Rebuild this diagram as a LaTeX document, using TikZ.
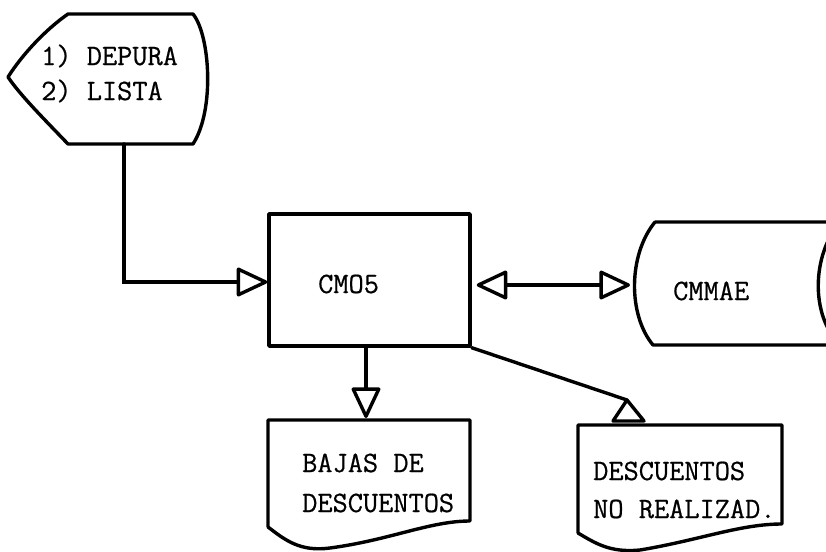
\documentclass[tikz,border=0pt]{standalone}
\usepackage{fontspec}
\newfontfamily\tw[FakeBold=0.6]{Latin Modern Mono}
\usetikzlibrary{arrows.meta}
\tikzset{
  shape line/.style={line width=3.4pt, line join=round, line cap=round},
  conn/.style={line width=3.4pt, line cap=round},
  tri/.tip={Triangle[open, length=33pt, width=30pt, line width=3.4pt, round]},
  opentip/.style={-tri},
  txt/.style={anchor=base west, inner sep=0pt, font=\tw\fontsize{29.5}{34}\selectfont},
}
\begin{document}
\begin{tikzpicture}[x=1pt,y=-1pt]
\useasboundingbox (0,0) rectangle (826,551);
\clip (0,0) rectangle (826,551);
\fill[white] (0,0) rectangle (826,551);

% display shape
\draw[shape line] (68,14) -- (193,14)
  .. controls (210,35) and (215,110) .. (193,144)
  -- (68,144)
  .. controls (45,120) and (20,95) .. (8,77)
  .. controls (22,55) and (45,30) .. (68,14) -- cycle;
\coordinate (disp) at (124,144);
\node[txt] (t1) at (41,65) {1) DEPURA};
\node[txt] (t2) at (41,100) {2) LISTA};

% process box
\node[draw, shape line, minimum width=201pt, minimum height=132pt, inner sep=0pt] (box) at (369.5,280) {};
\node[txt] (boxt) at (318,293) {CMO5};

% online storage
\draw[shape line] (655,222) -- (840,222) -- (840,345) -- (653,345)
  .. controls (628,315) and (628,255) .. (655,222);
\draw[shape line] (840,222) .. controls (812,255) and (810,315) .. (840,345);
\node[txt] (st) at (673,300) {CMMAE};
\coordinate (store) at (630,285);

% document 1
\draw[shape line] (268,527) -- (268,420) -- (470,420) -- (470,521)
  .. controls (430,521) and (390,540) .. (330,548)
  .. controls (300,552) and (285,540) .. (268,527);
\coordinate (doc1) at (366,418);
\node[txt] (d1a) at (302,472) {BAJAS DE};
\node[txt] (d1b) at (302,512) {DESCUENTOS};

% document 2
\draw[shape line] (578,533) -- (578,425) -- (782,425) -- (782,524)
  .. controls (740,524) and (700,540) .. (640,550)
  .. controls (610,553) and (595,543) .. (578,533);
\node[txt] (d2a) at (593,480) {DESCUENTOS};
\node[txt] (d2b) at (593,518) {NO REALIZAD.};
\coordinate (apex) at (627,400);

% connectors
\draw[conn, opentip] (disp) |- (box.west |- 0,282);
\draw[conn, tri-tri] (box.east |- 0,285) ++(5,0) -- (store);
\draw[conn, opentip] (box.south -| 366,0) -- (doc1);
\draw[conn] (box.south east) -- (apex);
\draw[shape line] (apex) -- (644,421) -- (613,421) -- cycle;
\end{tikzpicture}
\end{document}
